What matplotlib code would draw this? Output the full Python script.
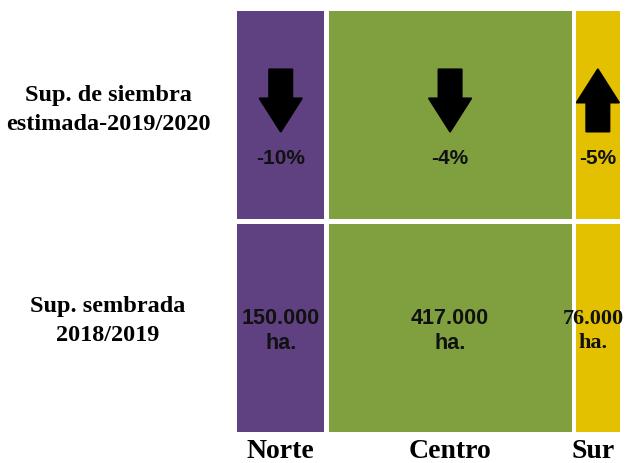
import matplotlib
matplotlib.use('Agg')
import matplotlib.pyplot as plt
from matplotlib.patches import Rectangle, Polygon
from matplotlib.transforms import ScaledTranslation

# data
regiones = ['Norte', 'Centro', 'Sur']
sup_sembrada = [150, 417, 76]          # miles de ha, 2018/2019
variacion = [-10, -4, -5]              # % estimado 2019/2020
direccion = ['down', 'down', 'up']
etiquetas_sup = ['150.000\nha.', '417.000\nha.', '76.000\nha.']
colores = ['#5f4080', '#80a040', '#e3c100']
fuente_sup = ['Liberation Sans', 'Liberation Sans', 'Liberation Serif']
filas = ['Sup. de siembra\nestimada-2019/2020', 'Sup. sembrada\n2018/2019']

W, H = 627, 464
fig = plt.figure(figsize=(W / 100, H / 100), dpi=100)
fig.patch.set_facecolor('white')

def fx(px):
    return px / W

def fy(py):
    return 1 - py / H

# axes box in pixels of the reference
left, right, top, bottom = 237, 620, 12, 433
ax = fig.add_axes([fx(left), fy(bottom), fx(right) - fx(left), fy(top) - fy(bottom)])
gap = 7
total = sum(sup_sembrada) + gap * (len(sup_sembrada) - 1)
ax.set_xlim(0, total)
ax.set_ylim(0, 2)
ax.axis('off')

row_gap = 0.012

def arrow_poly(d):
    # block arrow in inches, centred at 0,0
    L, hl, sw, hw = 0.62, 0.33, 0.23, 0.42
    pts = [(-sw / 2, L / 2), (sw / 2, L / 2), (sw / 2, L / 2 - (L - hl)),
           (hw / 2, L / 2 - (L - hl)), (0, -L / 2), (-hw / 2, L / 2 - (L - hl)),
           (-sw / 2, L / 2 - (L - hl))]
    if d == 'up':
        pts = [(x, -y) for x, y in pts]
    return pts

x0 = 0
for i, reg in enumerate(regiones):
    w = sup_sembrada[i]
    xc = x0 + w / 2
    # bottom row: superficie sembrada
    ax.add_patch(Rectangle((x0, 0), w, 1 - row_gap, facecolor=colores[i], edgecolor='none'))
    # top row: estimacion
    ax.add_patch(Rectangle((x0, 1 + row_gap), w, 1 - row_gap, facecolor=colores[i], edgecolor='none'))

    tr = fig.dpi_scale_trans + ScaledTranslation(xc, 1.575, ax.transData)
    ax.add_patch(Polygon(arrow_poly(direccion[i]), closed=True, facecolor='black',
                         edgecolor='black', linewidth=1.5, joinstyle='round', transform=tr))
    ax.text(xc, 1.306, '%d%%' % variacion[i], ha='center', va='center',
            fontsize=15, fontweight='bold', family='Liberation Sans', color='#111111')

    # keep the value label inside the figure for the narrow column
    px_c = ax.transData.transform((xc, 0))[0]
    px_c = min(px_c, 593)
    fs = 15.5 if fuente_sup[i] == 'Liberation Sans' else 16
    fig.text(px_c / W, fy(331), etiquetas_sup[i], ha='center', va='center', linespacing=1.3,
             fontsize=fs, fontweight='bold', family=fuente_sup[i], color='#111111')

    fig.text(px_c / W, fy(464), reg, ha='center', va='bottom',
             fontsize=20, fontweight='bold', family='Liberation Serif', color='black')
    x0 += w + gap

# row labels
fig.text(fx(108), fy(110), filas[0], ha='center', va='center', linespacing=1.45,
         fontsize=17.5, fontweight='bold', family='Liberation Serif')
fig.text(fx(108), fy(321), filas[1], ha='center', va='center', linespacing=1.45,
         fontsize=17.5, fontweight='bold', family='Liberation Serif')

fig.savefig('out.png', dpi=100, facecolor='white')
